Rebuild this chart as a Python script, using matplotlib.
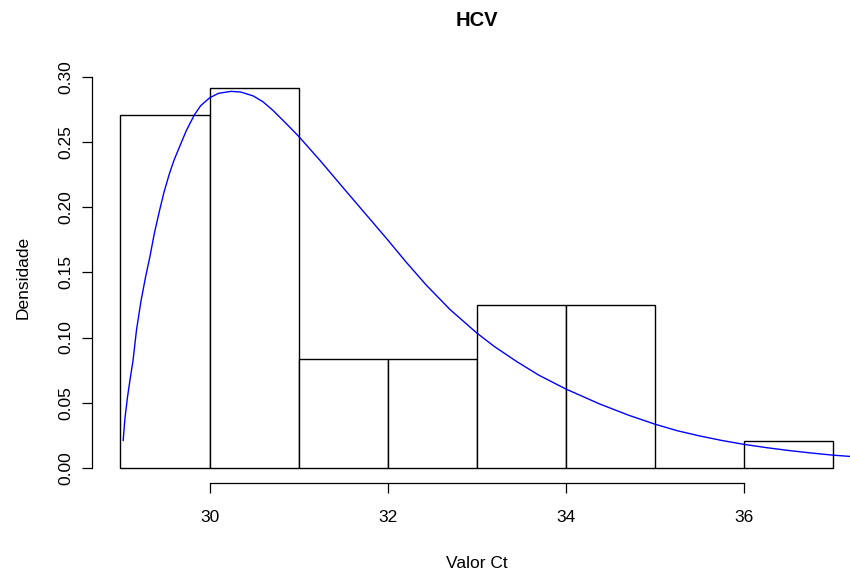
import matplotlib
matplotlib.use("Agg")
import matplotlib.pyplot as plt

plt.rcParams['font.family'] = ['Liberation Sans', 'DejaVu Sans']

# Histogram data (density)
bin_edges = [29, 30, 31, 32, 33, 34, 35, 36, 37]
densities = [0.2708, 0.2917, 0.0833, 0.0833, 0.125, 0.125, 0.0, 0.0208]

# Fitted density curve
curve_x = [29.03, 29.05, 29.08, 29.11, 29.14, 29.18, 29.23, 29.28, 29.33, 29.38,
           29.44, 29.49, 29.55, 29.60, 29.66, 29.74, 29.83, 29.90, 30.0, 30.10,
           30.24, 30.35, 30.49, 30.60, 30.71, 30.85, 31.0, 31.24, 31.5, 31.75,
           32.0, 32.2, 32.43, 32.7, 33.0, 33.2, 33.45, 33.7, 34.0, 34.38,
           34.7, 35.0, 35.25, 35.5, 35.75, 36.0, 36.25, 36.5, 36.75, 37.0, 37.4]
curve_y = [0.021, 0.038, 0.055, 0.069, 0.082, 0.106, 0.128, 0.146, 0.162, 0.180,
           0.198, 0.212, 0.226, 0.236, 0.246, 0.259, 0.271, 0.278, 0.284, 0.2875,
           0.289, 0.2885, 0.2855, 0.281, 0.2745, 0.265, 0.2545, 0.236, 0.215, 0.195,
           0.175, 0.1585, 0.1405, 0.1215, 0.1035, 0.093, 0.0815, 0.0710, 0.0605, 0.0490,
           0.0405, 0.0335, 0.0285, 0.0245, 0.021, 0.018, 0.0155, 0.0133, 0.0114, 0.0097, 0.0077]

x_ticks = [30, 32, 34, 36]
y_ticks = [0.00, 0.05, 0.10, 0.15, 0.20, 0.25, 0.30]

W, H = 850, 569
fig = plt.figure(figsize=(W / 100, H / 100), dpi=100)
left, right = 92.0 / W, 861.5 / W
bottom, top = (H - 483.0) / H, (H - 72.7) / H
ax = fig.add_axes([left, bottom, right - left, top - bottom])

widths = [bin_edges[i + 1] - bin_edges[i] for i in range(len(densities))]
ax.bar(bin_edges[:-1], densities, width=widths, align='edge',
       color='white', edgecolor='black', linewidth=1.0)
ax.plot(curve_x, curve_y, color='blue', linewidth=1.0, clip_on=True)

ax.set_xlim(28.68, 37.32)
ax.set_ylim(-0.01167, 0.30333)

for s in ['top', 'right']:
    ax.spines[s].set_visible(False)
ax.spines['left'].set_bounds(0, 0.30)
ax.spines['bottom'].set_bounds(30, 36)
ax.spines['left'].set_linewidth(0.9)
ax.spines['bottom'].set_linewidth(0.9)

ax.set_xticks(x_ticks)
ax.set_xticklabels([str(t) for t in x_ticks], fontsize=12.5)
ax.set_yticks(y_ticks)
ax.set_yticklabels([f"{t:.2f}" for t in y_ticks], fontsize=12.5, rotation=90, va='center')
ax.tick_params(axis='both', length=7.5, width=0.9)
ax.tick_params(axis='x', pad=12)
ax.tick_params(axis='y', pad=6)

ax.set_xlabel("Valor Ct", fontsize=12.5, labelpad=22)
ax.set_ylabel("Densidade", fontsize=12.5, labelpad=20)
fig.text(477 / W, 1 - 20 / H, "HCV", ha='center', va='center',
         fontsize=14.5, fontweight='bold')

fig.savefig("out.png", dpi=100)
